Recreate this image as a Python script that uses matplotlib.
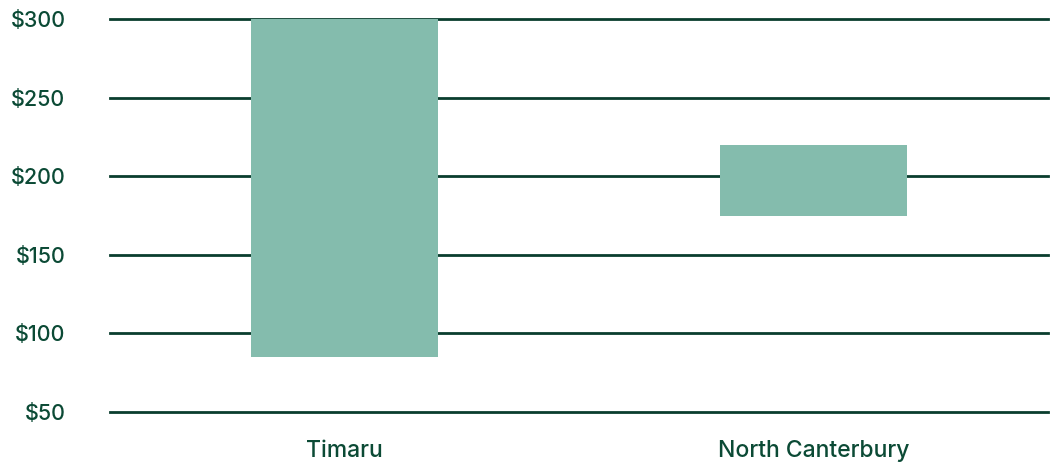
import matplotlib
matplotlib.use("Agg")
import matplotlib.pyplot as plt

categories = ["Timaru", "North Canterbury"]
low_values = [85, 175]
high_values = [300, 220]
yticks = [50, 100, 150, 200, 250, 300]
ytick_labels = ["$50", "$100", "$150", "$200", "$250", "$300"]

bar_color = "#84bcad"
grid_color = "#0a3d2e"
text_color = "#0b4a35"

plt.rcParams['font.family'] = ['Inter', 'DejaVu Sans']

fig = plt.figure(figsize=(10.53, 4.62), dpi=100)
ax = fig.add_axes([110/1053, 1-412/462, (1048-110)/1053, (412-19)/462])

x = list(range(len(categories)))
heights = [h - l for l, h in zip(low_values, high_values)]
ax.bar(x, heights, bottom=low_values, width=0.4, color=bar_color, zorder=3)

ax.set_xlim(-0.5, 1.5)
ax.set_ylim(50, 300)
ax.set_yticks(yticks)
ax.set_yticklabels(ytick_labels, fontweight='medium')
ax.set_xticks(x)
ax.set_xticklabels(categories, fontweight='medium')
for y in yticks:
    ax.axhline(y, color=grid_color, lw=2, zorder=2, clip_on=False)

for s in ax.spines.values():
    s.set_visible(False)
ax.tick_params(axis='y', length=0, pad=32, labelsize=15.5, labelcolor=text_color)
ax.tick_params(axis='x', length=0, pad=20, labelsize=16.5, labelcolor=text_color)

fig.savefig("out.png", dpi=100)
